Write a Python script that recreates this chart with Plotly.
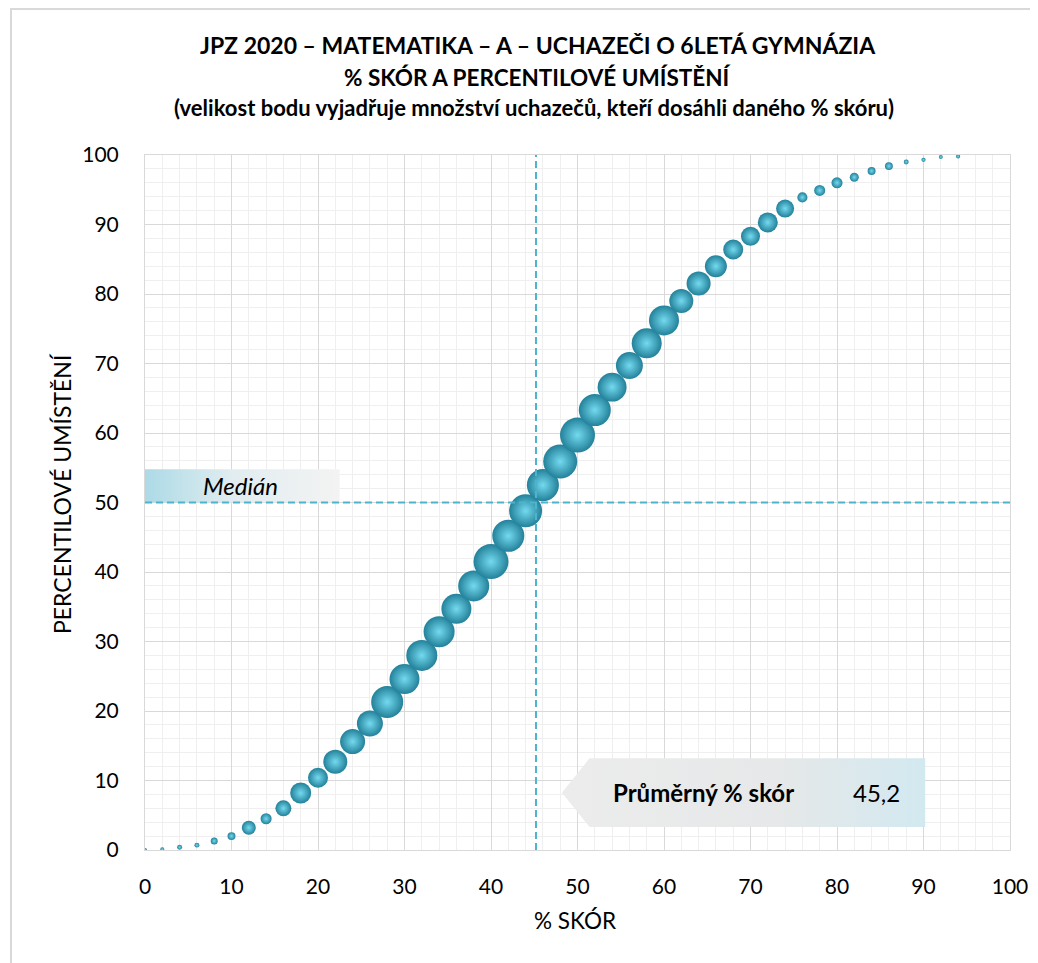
import plotly.graph_objects as go

# ---- data ----
skor = [0, 2, 4, 6, 8, 10, 12, 14, 16, 18, 20, 22, 24, 26, 28, 30, 32, 34, 36, 38,
        40, 42, 44, 46, 48, 50, 52, 54, 56, 58, 60, 62, 64, 66, 68, 70, 72, 74, 76, 78,
        80, 82, 84, 86, 88, 90, 92, 94]
percentil = [0.0, 0.1, 0.4, 0.7, 1.3, 2.0, 3.2, 4.5, 6.0, 8.2, 10.4, 12.7, 15.6, 18.2, 21.3,
             24.6, 28.0, 31.4, 34.7, 38.0, 41.5, 45.2, 48.8, 52.5, 55.9, 59.7, 63.3, 66.6,
             69.7, 72.9, 76.2, 79.0, 81.5, 84.0, 86.4, 88.3, 90.3, 92.3, 93.9, 94.9, 96.0,
             96.8, 97.7, 98.4, 99.0, 99.3, 99.7, 99.8]
uchazeci = [3, 1, 7, 7, 14, 18, 56, 35, 73, 126, 114, 165, 179, 193, 293, 257, 275, 275,
            257, 275, 350, 293, 311, 293, 330, 350, 293, 240, 208, 257, 257, 165, 165, 138,
            114, 103, 114, 93, 29, 35, 35, 23, 18, 18, 7, 5, 3, 3]
median = 50
prumer = 45.2

x_ticks = [0, 10, 20, 30, 40, 50, 60, 70, 80, 90, 100]
y_ticks = [0, 10, 20, 30, 40, 50, 60, 70, 80, 90, 100]

title1 = "JPZ 2020 – MATEMATIKA – A – UCHAZEČI O 6LETÁ GYMNÁZIA"
title2 = "% SKÓR A PERCENTILOVÉ UMÍSTĚNÍ"
title3 = "(velikost bodu vyjadřuje množství uchazečů, kteří dosáhli daného % skóru)"

FONT = "Lato"
MAXD = 35
sizeref = 2 * max(uchazeci) / MAXD ** 2

# screen-pixel helpers (page body adds an 8px offset; plot area at 145..1010 x 155..850)
def px(sx):
    return (sx - 145) / 865

def py(sy):
    return (850 - sy) / 695

fig = go.Figure()

# median callout box (decorative)
fig.add_trace(go.Scatter(
    x=[0, 22.5, 22.5, 0, 0], y=[median, median, median + 4.8, median + 4.8, median],
    mode="lines", line=dict(width=0), fill="toself",
    fillgradient=dict(type="horizontal",
                      colorscale=[[0, "#acdae6"], [0.45, "#e1edf0"], [1, "#f3f3f3"]]),
    hoverinfo="skip", showlegend=False))

# average callout arrow box (decorative)
tip = prumer + 3.0
body = prumer + 6.2
right = 90.2
fig.add_trace(go.Scatter(
    x=[tip, body, right, right, body, tip], y=[8.25, 13.2, 13.2, 3.3, 3.3, 8.25],
    mode="lines", line=dict(width=0), fill="toself",
    fillgradient=dict(type="horizontal",
                      colorscale=[[0, "#ececec"], [0.6, "#e6e8e9"], [1, "#d2e9f0"]]),
    hoverinfo="skip", showlegend=False))

# bubbles
fig.add_trace(go.Scatter(
    x=skor, y=percentil, mode="markers",
    marker=dict(size=uchazeci, sizemode="area", sizeref=sizeref, sizemin=2,
                color="#23819a", opacity=1,
                gradient=dict(type="radial", color="#74daef"),
                line=dict(width=0)),
    showlegend=False,
    hovertemplate="%{x} %%: %{y}<extra></extra>"))

shapes = [
    dict(type="line", xref="x", yref="y", x0=0, x1=100, y0=median, y1=median,
         line=dict(color="#4cb4cc", width=2, dash="7px,4px"), layer="above"),
    dict(type="line", xref="x", yref="y", x0=prumer, x1=prumer, y0=0, y1=100,
         line=dict(color="#4cb4cc", width=2, dash="7px,4px"), layer="above"),
    # outer chart frame
    dict(type="rect", xref="paper", yref="paper",
         x0=px(11), x1=px(1080), y0=py(1000), y1=py(9),
         line=dict(color="#d9d9d9", width=2), fillcolor="rgba(0,0,0,0)", layer="below"),
]

def ann(text, x, y, size, **kw):
    d = dict(text=text, xref="paper", yref="paper", x=x, y=y, xanchor="center",
             yanchor="middle", showarrow=False,
             font=dict(family=FONT, size=size, color="#000000"))
    d.update(kw)
    return d

annotations = [
    ann("<b>%s</b>" % title1, px(538), py(45), 23),
    ann("<b>%s</b>" % title2, px(538), py(77), 22.5),
    ann("<b>%s</b>" % title3, px(534), py(108), 22),
    ann("% SKÓR", px(575), py(920), 22.5),
    ann("PERCENTILOVÉ UMÍSTĚNÍ", px(62), py(494), 23, textangle=-90),
    dict(text="<i>Medián</i>", xref="x", yref="y", x=11, y=median + 2.4,
         showarrow=False, font=dict(family=FONT, size=24, color="#000000")),
    dict(text="<b>Průměrný % skór</b>", xref="x", yref="y", x=64.6, y=8.25,
         showarrow=False, font=dict(family=FONT, size=24, color="#000000")),
    dict(text=("%.1f" % prumer).replace(".", ","), xref="x", yref="y", x=84.6, y=8.25,
         showarrow=False, font=dict(family=FONT, size=24, color="#000000")),
]

axis_common = dict(
    showgrid=True, gridcolor="#d9d9d9", gridwidth=1,
    minor=dict(showgrid=True, gridcolor="#efefef", gridwidth=1, dtick=2),
    showline=True, linecolor="#d9d9d9", linewidth=1, mirror=True,
    zeroline=False, ticks="", tickfont=dict(family=FONT, size=21, color="#000000"),
    fixedrange=True,
)

fig.update_layout(
    width=1030, height=955,
    margin=dict(l=137, r=28, t=147, b=113, autoexpand=False),
    paper_bgcolor="white", plot_bgcolor="white",
    shapes=shapes, annotations=annotations,
    xaxis=dict(range=[0, 100], tickvals=x_ticks, ticktext=[str(v) for v in x_ticks],
               ticklabelstandoff=18, **axis_common),
    yaxis=dict(range=[0, 100], tickvals=y_ticks, ticktext=[str(v) for v in y_ticks],
               ticklabelstandoff=21, **axis_common),
    font=dict(family=FONT),
)

fig.write_html("out.html")
